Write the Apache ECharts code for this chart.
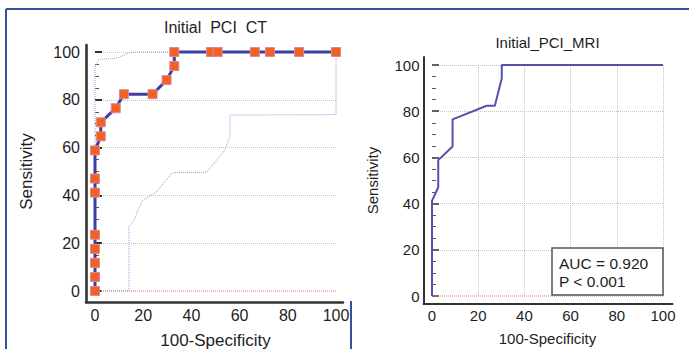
<!DOCTYPE html>
<html>
<head>
<meta charset="utf-8">
<script src="https://cdn.jsdelivr.net/npm/echarts@6/dist/echarts.min.js"></script>
<style>
  html, body { margin: 0; padding: 0; background: #fff; }
  #chart { width: 689px; height: 349px; }
</style>
</head>
<body>
<div id="chart"></div>
<script>
// ---- Data ----
const ctTitle = 'Initial  PCI  CT';
const mriTitle = 'Initial_PCI_MRI';
const xName = '100-Specificity';
const yName = 'Sensitivity';
const tickValues = [0, 20, 40, 60, 80, 100];

// Initial PCI CT ROC curve (100-Specificity, Sensitivity)
const ctFpr  = [0, 0, 0, 0, 0, 0, 0, 0, 2.4, 2.4, 8.6, 12.0, 23.9, 29.7, 32.9, 32.9, 48.1, 50.9, 66.3, 72.6, 84.7, 100];
const ctSens = [0, 5.88, 11.76, 17.65, 23.53, 41.18, 47.06, 58.82, 64.71, 70.59, 76.47, 82.35, 82.35, 88.24, 94.12, 100, 100, 100, 100, 100, 100, 100];

// 95% confidence bounds (dotted)
const ctUpperX = [0, 0, 1.4, 9.0, 14.5, 17.0, 100];
const ctUpperY = [0, 93.5, 96.9, 97.4, 99.7, 100, 100];
const ctLowerX = [0, 14.1, 14.1, 15.9, 19.4, 20.0, 25.6, 31.8, 33.2, 46.3, 50.5, 53.9, 56.0, 56.0, 100, 100];
const ctLowerY = [0, 0, 27.2, 29.0, 37.4, 38.1, 41.6, 49.2, 49.6, 49.6, 54.8, 59.0, 64.6, 73.6, 73.8, 100];

// reference line at sensitivity 0
const refX = [0, 100];
const refY = [0, 0];

// Initial_PCI_MRI ROC curve
const mriFpr  = [0, 0, 2.7, 2.7, 8.9, 8.9, 23.7, 27.2, 30.2, 30.2, 100];
const mriSens = [0, 41.18, 47.06, 58.82, 64.71, 76.47, 82.35, 82.35, 94.12, 100, 100];

const aucText = ['AUC = 0.920', 'P < 0.001'];

// ---- helpers ----
const zip = (xs, ys) => xs.map((x, i) => [x, ys[i]]);
const FONT = "'Liberation Sans', Arial, sans-serif";
const TXT = '#1e1e1e';

function mainX(gi, opts) {
  return {
    gridIndex: gi, type: 'value', min: 0, max: 100, interval: 20,
    offset: opts.offset,
    name: xName, nameLocation: 'middle', nameGap: opts.nameGap,
    nameTextStyle: { fontFamily: FONT, fontSize: opts.nameSize, color: TXT },
    axisLine: { show: false },
    axisTick: { show: false },
    axisLabel: { fontFamily: FONT, fontSize: opts.labelSize, color: TXT, margin: opts.labelMargin },
    splitLine: { show: opts.vGrid, showMinLine: false,
                 lineStyle: { color: '#c4c4c4', type: 'dotted', width: 1 } }
  };
}
function mainY(gi, opts) {
  return {
    gridIndex: gi, type: 'value', min: 0, max: 100, interval: 20,
    offset: opts.offset,
    name: yName, nameLocation: 'middle', nameGap: opts.nameGap, nameRotate: 90,
    nameTextStyle: { fontFamily: FONT, fontSize: opts.nameSize, color: TXT },
    axisLine: { show: false },
    axisTick: { show: true, inside: true, length: 7, lineStyle: { color: '#333', width: opts.tickW } },
    minorTick: { show: true, splitNumber: 4, length: 4, lineStyle: { color: '#555', width: 1 } },
    axisLabel: { fontFamily: FONT, fontSize: opts.labelSize, color: TXT, margin: opts.labelMargin },
    splitLine: { show: true, showMinLine: false,
                 lineStyle: { color: '#c4c4c4', type: 'dotted', width: 1 } }
  };
}
function decorAxis(gi, w) {
  return {
    gridIndex: gi, type: 'value', min: 0, max: 1,
    axisLine: { show: true, onZero: false, lineStyle: { color: '#333', width: w } },
    axisTick: { show: false }, axisLabel: { show: false }, splitLine: { show: false }
  };
}
function grid(left, top, width, height) {
  return { left, top, width, height, containLabel: false, outerBoundsMode: 'none' };
}

const chart = echarts.init(document.getElementById('chart'), null, { renderer: 'svg' });

const option = {
  backgroundColor: '#ffffff',
  animation: false,
  grid: [
    grid(95, 52, 241, 239),        // CT data
    grid(432, 65, 231, 231),       // MRI data
    grid(86, 45, 257, 257),        // CT axis lines
    grid(423.5, 57, 249, 246.5)    // MRI axis lines
  ],
  xAxis: [
    mainX(0, { offset: 11, nameGap: 30, nameSize: 17, labelSize: 16, labelMargin: 5, vGrid: false }),
    mainX(1, { offset: 8, nameGap: 27, nameSize: 15, labelSize: 15, labelMargin: 4, vGrid: true }),
    decorAxis(2, 2.6),
    decorAxis(3, 2)
  ],
  yAxis: [
    mainY(0, { offset: 9, nameGap: 51, nameSize: 17, labelSize: 16, labelMargin: 6, tickW: 2 }),
    mainY(1, { offset: 8.5, nameGap: 44, nameSize: 15, labelSize: 15, labelMargin: 4, tickW: 1.5 }),
    decorAxis(2, 2.6),
    decorAxis(3, 2)
  ],
  series: [
    { type: 'line', xAxisIndex: 0, yAxisIndex: 0, data: zip(refX, refY), symbol: 'none', clip: false,
      lineStyle: { color: '#d07878', width: 1, type: 'dotted' }, z: 1 },
    { type: 'line', xAxisIndex: 0, yAxisIndex: 0, data: zip(ctUpperX, ctUpperY), symbol: 'none', clip: false,
      lineStyle: { color: '#9c9ce0', width: 1, type: 'dotted' }, z: 2 },
    { type: 'line', xAxisIndex: 0, yAxisIndex: 0, data: zip(ctLowerX, ctLowerY), symbol: 'none', clip: false,
      lineStyle: { color: '#9c9ce0', width: 1, type: 'dotted' }, z: 2 },
    { type: 'line', xAxisIndex: 0, yAxisIndex: 0, data: zip(ctFpr, ctSens), clip: false,
      symbol: 'rect', symbolSize: 9, showAllSymbol: true,
      lineStyle: { color: '#3c3fa0', width: 3 },
      itemStyle: { color: '#f26124', borderColor: '#d9899c', borderWidth: 1 }, z: 5 },
    { type: 'line', xAxisIndex: 1, yAxisIndex: 1, data: zip(refX, refY), symbol: 'none', clip: false,
      lineStyle: { color: '#d07878', width: 1, type: 'dotted' }, z: 1 },
    { type: 'line', xAxisIndex: 1, yAxisIndex: 1, data: zip(mriFpr, mriSens), symbol: 'none', clip: false,
      lineStyle: { color: '#5252ae', width: 2 }, z: 5 }
  ],
  graphic: [
    { type: 'line', shape: { x1: 6, y1: 9, x2: 689, y2: 9 }, style: { stroke: '#34509f', lineWidth: 2 } },
    { type: 'line', shape: { x1: 6, y1: 9, x2: 6, y2: 349 }, style: { stroke: '#34509f', lineWidth: 2 } },
    { type: 'line', shape: { x1: 351, y1: 301, x2: 351, y2: 349 }, style: { stroke: '#34509f', lineWidth: 2 } },
    { type: 'text', x: 215.5, y: 27, style: { text: ctTitle, fontFamily: FONT, fontSize: 16, fill: TXT,
      align: 'center', verticalAlign: 'middle' } },
    { type: 'text', x: 547.5, y: 42, style: { text: mriTitle, fontFamily: FONT, fontSize: 15, fill: TXT,
      align: 'center', verticalAlign: 'middle' } },
    { type: 'rect', x: 552, y: 248, z: 100, shape: { x: 0, y: 0, width: 111, height: 47 },
      style: { fill: '#ffffff', stroke: '#555555', lineWidth: 1.5 } },
    { type: 'text', x: 559, y: 263, z: 101, style: { text: aucText[0], fontFamily: FONT, fontSize: 15.5, fill: TXT,
      verticalAlign: 'middle' } },
    { type: 'text', x: 559, y: 281, z: 101, style: { text: aucText[1], fontFamily: FONT, fontSize: 15.5, fill: TXT,
      verticalAlign: 'middle' } }
  ]
};
chart.setOption(option);
</script>
</body>
</html>
